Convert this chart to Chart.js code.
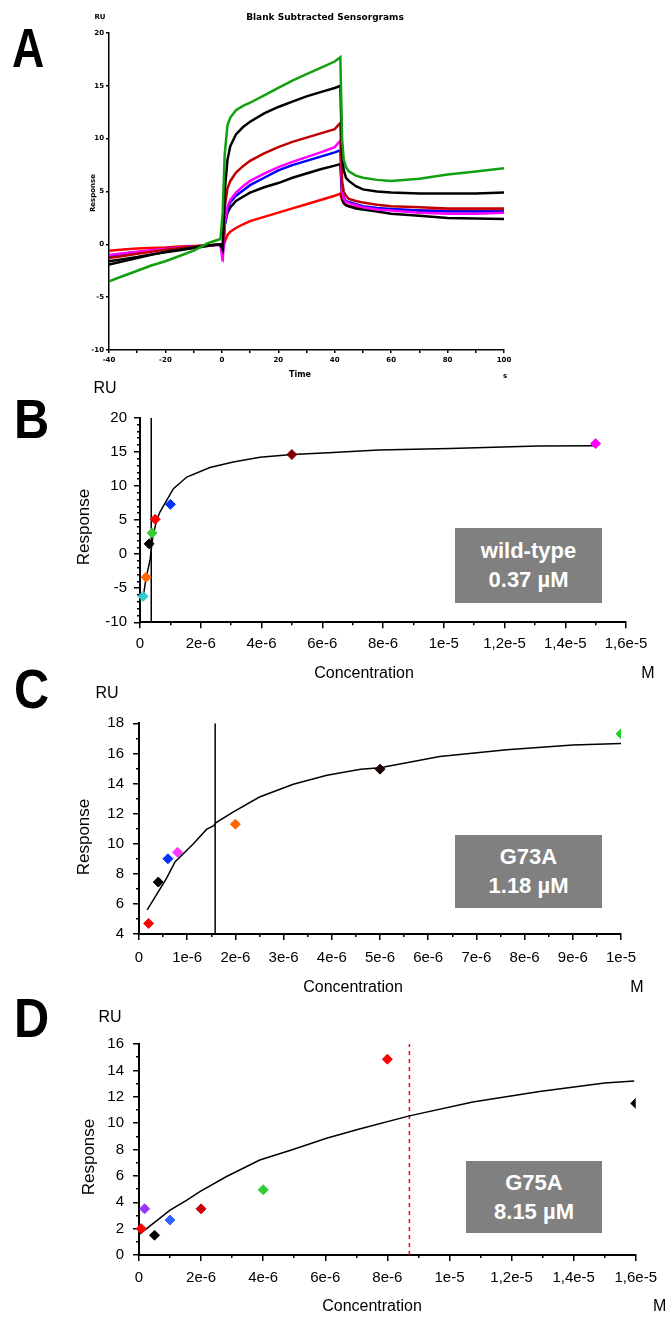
<!DOCTYPE html>
<html>
<head>
<meta charset="utf-8">
<script src="https://cdn.jsdelivr.net/npm/chart.js@4.4.1/dist/chart.umd.min.js"></script>
<style>
  body { margin: 0; background: #fff; width: 665px; height: 1320px; position: relative; overflow: hidden;
         font-family: 'Liberation Sans', Arial, sans-serif; color: #000; }
  canvas { position: absolute; left: 0; }
  .t { position: absolute; white-space: nowrap; line-height: 1; }
  .c { transform: translate(-50%, -50%); }
  .r { transform: translate(-50%, -50%) rotate(-90deg); }
  .letter { font-weight: bold; font-size: 56px; line-height: 56px; transform: scaleX(0.87); transform-origin: 0 0; }
  .box { position: absolute; background: #808080; color: #fff; font-weight: bold; font-size: 22px;
         text-align: center; line-height: 29px; box-sizing: border-box; }
  .tiny { font-family: 'DejaVu Sans', sans-serif; font-weight: bold; }
</style>
</head>
<body>

<canvas id="chartA" width="665" height="390" style="top:0px"></canvas>
<canvas id="chartB" width="665" height="300" style="top:380px"></canvas>
<canvas id="chartC" width="665" height="320" style="top:680px"></canvas>
<canvas id="chartD" width="665" height="320" style="top:1000px"></canvas>

<!-- panel A -->
<div class="t letter" style="left:12px;top:20px;transform:scaleX(0.8)">A</div>
<div class="t c tiny" style="left:325px;top:17px;font-size:9px">Blank Subtracted Sensorgrams</div>
<div class="t c tiny" style="left:100px;top:17px;font-size:7px">RU</div>
<div class="t r tiny" style="left:93px;top:193px;font-size:7px">Response</div>
<div class="t c tiny" style="left:300px;top:375px;font-size:8px">Time</div>
<div class="t c tiny" style="left:505px;top:376px;font-size:7px">s</div>

<!-- panel B -->
<div class="t letter" style="left:14px;top:391px">B</div>
<div class="t c" style="left:105px;top:388px;font-size:16px">RU</div>
<div class="t r" style="left:83px;top:527px;font-size:17px">Response</div>
<div class="t c" style="left:364px;top:673px;font-size:16px">Concentration</div>
<div class="t c" style="left:648px;top:673px;font-size:16px">M</div>
<div class="box" style="left:455px;top:528px;width:147px;height:75px;padding-top:8px">wild-type<br>0.37 µM</div>

<!-- panel C -->
<div class="t letter" style="left:14px;top:661px">C</div>
<div class="t c" style="left:107px;top:693px;font-size:16px">RU</div>
<div class="t r" style="left:83px;top:837px;font-size:17px">Response</div>
<div class="t c" style="left:353px;top:987px;font-size:16px">Concentration</div>
<div class="t c" style="left:637px;top:987px;font-size:16px">M</div>
<div class="box" style="left:455px;top:835px;width:147px;height:73px;padding-top:7px">G73A<br>1.18 µM</div>

<!-- panel D -->
<div class="t letter" style="left:14px;top:990px">D</div>
<div class="t c" style="left:110px;top:1017px;font-size:16px">RU</div>
<div class="t r" style="left:88px;top:1157px;font-size:17px">Response</div>
<div class="t c" style="left:372px;top:1306px;font-size:16px">Concentration</div>
<div class="t" style="left:653px;top:1298px;font-size:16px">M</div>
<div class="box" style="left:466px;top:1161px;width:136px;height:72px;padding-top:7px">G75A<br>8.15 µM</div>

<script>
// Panel A - sensorgrams (time in s, response in RU)
const aTime = [-40, -35, -30, -25, -20, -15, -10, -5, -0.5, 0.3, 1, 2, 3, 5, 7.5, 10, 15, 20, 25, 30, 35, 40, 42, 42.6, 43.2, 44, 45, 47.5, 50, 55, 60, 70, 80, 90, 100];
const aGreen   = [-3.5, -3.0, -2.5, -2.0, -1.6, -1.1, -0.6, 0.1, 0.5, 3.0, 8.5, 11.3, 12.0, 12.7, 13.1, 13.4, 14.1, 14.8, 15.5, 16.1, 16.7, 17.3, 17.7, 10.0, 8.0, 7.3, 6.9, 6.5, 6.3, 6.1, 6.0, 6.2, 6.6, 6.9, 7.2];
const aBlack1  = [-1.9, -1.6, -1.3, -1.0, -0.7, -0.5, -0.3, -0.1, 0.0, -0.5, 5.0, 8.0, 9.3, 10.4, 11.1, 11.6, 12.4, 13.0, 13.5, 14.0, 14.4, 14.8, 15.0, 8.5, 7.0, 6.3, 6.0, 5.5, 5.2, 5.0, 4.9, 4.8, 4.8, 4.8, 4.9];
const aDarkRed = [-1.3, -1.1, -0.9, -0.7, -0.5, -0.35, -0.2, -0.1, 0.0, -0.3, 3.5, 5.3, 6.0, 6.8, 7.4, 7.9, 8.6, 9.2, 9.7, 10.1, 10.5, 10.9, 11.5, 6.0, 5.0, 4.6, 4.3, 4.1, 3.95, 3.75, 3.6, 3.5, 3.4, 3.4, 3.4];
const aMagenta = [-1.0, -0.85, -0.7, -0.55, -0.45, -0.3, -0.2, -0.1, -0.05, -1.6, 2.0, 3.6, 4.2, 4.9, 5.5, 6.0, 6.7, 7.3, 7.8, 8.25, 8.7, 9.2, 9.8, 5.0, 4.3, 4.0, 3.9, 3.7, 3.5, 3.3, 3.2, 3.0, 2.9, 2.9, 3.0];
const aBlue    = [-1.1, -0.9, -0.75, -0.6, -0.45, -0.3, -0.2, -0.1, -0.05, -1.0, 1.8, 3.3, 4.0, 4.6, 5.1, 5.6, 6.3, 7.0, 7.5, 7.9, 8.3, 8.7, 8.9, 5.0, 4.4, 4.1, 4.0, 3.8, 3.6, 3.45, 3.35, 3.2, 3.1, 3.1, 3.1];
const aBlack2  = [-1.6, -1.4, -1.2, -0.95, -0.75, -0.55, -0.35, -0.15, 0.0, -0.8, 1.8, 3.0, 3.5, 4.1, 4.5, 4.9, 5.4, 5.8, 6.3, 6.7, 7.1, 7.45, 7.6, 4.5, 3.9, 3.7, 3.6, 3.4, 3.3, 3.1, 2.9, 2.7, 2.5, 2.45, 2.4];
const aRed     = [-0.6, -0.5, -0.4, -0.35, -0.3, -0.2, -0.15, -0.1, 0.0, -0.6, 0.2, 0.9, 1.2, 1.55, 1.9, 2.2, 2.6, 3.0, 3.4, 3.8, 4.2, 4.6, 4.8, 4.2, 3.9, 3.7, 3.6, 3.5, 3.4, 3.3, 3.3, 3.2, 3.2, 3.2, 3.2];
const aXTicks = [-40, -30, -20, -10, 0, 10, 20, 30, 40, 50, 60, 70, 80, 90, 100];
const aXLabels = ['-40', '', '-20', '', '0', '', '20', '', '40', '', '60', '', '80', '', '100'];
const aYTicks = [-10, -5, 0, 5, 10, 15, 20];
const aYLabels = ['-10', '-5', '0', '5', '10', '15', '20'];

// Panel B - wild-type
const bConc   = [1e-7, 2e-7, 3e-7, 4e-7, 5e-7, 1e-6, 5e-6, 1.5e-5];
const bResp   = [-6.2, -3.4, 1.5, 3.1, 5.1, 7.3, 14.6, 16.2];
const bColors = ['#33cccc', '#ff6600', '#000000', '#33cc33', '#ff0000', '#0033ff', '#800000', '#ff00ff'];
const bFitConc = [0.9e-7, 2e-7, 3.3e-7, 4.2e-7, 5.5e-7, 6.6e-7, 1.1e-6, 1.54e-6, 2.3e-6, 3.07e-6, 3.95e-6, 5e-6, 6.2e-6, 7.85e-6, 1.02e-5, 1.31e-5, 1.5e-5];
const bFitResp = [-6.7, -3.5, -0.9, 2.5, 5.0, 6.2, 9.6, 11.3, 12.7, 13.5, 14.2, 14.6, 14.85, 15.25, 15.5, 15.85, 15.9];
const bKd = 3.7e-7;
const bXTicks  = [0, 2e-6, 4e-6, 6e-6, 8e-6, 1e-5, 1.2e-5, 1.4e-5, 1.6e-5];
const bXLabels = ['0', '2e-6', '4e-6', '6e-6', '8e-6', '1e-5', '1,2e-5', '1,4e-5', '1,6e-5'];
const bXMinor  = [1e-6, 3e-6, 5e-6, 7e-6, 9e-6, 1.1e-5, 1.3e-5, 1.5e-5];
const bYTicks  = [-10, -5, 0, 5, 10, 15, 20];
const bYLabels = ['-10', '-5', '0', '5', '10', '15', '20'];
const bYMinor  = [-9, -8, -7, -6, -4, -3, -2, -1, 1, 2, 3, 4, 6, 7, 8, 9, 11, 12, 13, 14, 16, 17, 18, 19];

// Panel C - G73A
const cConc   = [2e-7, 4e-7, 6e-7, 8e-7, 2e-6, 5e-6, 1e-5];
const cResp   = [4.7, 7.45, 9.0, 9.43, 11.3, 14.95, 17.3];
const cColors = ['#ff0000', '#000000', '#0033ff', '#ff33ff', '#ff6600', '#1a0000', '#22cc22'];
const cFitConc = [1.7e-7, 5.7e-7, 7.5e-7, 1.13e-6, 1.4e-6, 1.55e-6, 1.6e-6, 1.95e-6, 2.5e-6, 3.2e-6, 3.9e-6, 4.6e-6, 5e-6, 6.24e-6, 7.63e-6, 9e-6, 1e-5];
const cFitResp = [5.6, 7.7, 8.8, 10.0, 10.95, 11.2, 11.4, 12.1, 13.1, 13.95, 14.55, 14.95, 15.05, 15.8, 16.25, 16.55, 16.65];
const cKd = 1.58e-6;
const cXTicks  = [0, 1e-6, 2e-6, 3e-6, 4e-6, 5e-6, 6e-6, 7e-6, 8e-6, 9e-6, 1e-5];
const cXLabels = ['0', '1e-6', '2e-6', '3e-6', '4e-6', '5e-6', '6e-6', '7e-6', '8e-6', '9e-6', '1e-5'];
const cXMinor  = [5e-7, 1.5e-6, 2.5e-6, 3.5e-6, 4.5e-6, 5.5e-6, 6.5e-6, 7.5e-6, 8.5e-6, 9.5e-6];
const cYTicks  = [4, 6, 8, 10, 12, 14, 16, 18];
const cYLabels = ['4', '6', '8', '10', '12', '14', '16', '18'];
const cYMinor  = [5, 7, 9, 11, 13, 15, 17];

// Panel D - G75A
const dConc   = [0.7e-7, 1.8e-7, 5e-7, 1e-6, 2e-6, 4e-6, 8e-6, 1.6e-5];
const dResp   = [2.0, 3.5, 1.5, 2.65, 3.5, 4.95, 14.85, 11.5];
const dColors = ['#ff0000', '#9933ff', '#000000', '#3366ff', '#cc0000', '#33cc33', '#ff0000', '#000000'];
const dFitConc = [0.3e-7, 4.6e-7, 1e-6, 1.53e-6, 1.96e-6, 2.82e-6, 3.89e-6, 4.96e-6, 6.04e-6, 7.1e-6, 8.71e-6, 1.075e-5, 1.29e-5, 1.5e-5, 1.595e-5];
const dFitResp = [1.6, 2.4, 3.4, 4.15, 4.8, 5.95, 7.2, 8.0, 8.85, 9.55, 10.55, 11.6, 12.4, 13.05, 13.2];
const dKd = 8.71e-6;
const dXTicks  = [0, 2e-6, 4e-6, 6e-6, 8e-6, 1e-5, 1.2e-5, 1.4e-5, 1.6e-5];
const dXLabels = ['0', '2e-6', '4e-6', '6e-6', '8e-6', '1e-5', '1,2e-5', '1,4e-5', '1,6e-5'];
const dXMinor  = [1e-6, 3e-6, 5e-6, 7e-6, 9e-6, 1.1e-5, 1.3e-5, 1.5e-5];
const dYTicks  = [0, 2, 4, 6, 8, 10, 12, 14, 16];
const dYLabels = ['0', '2', '4', '6', '8', '10', '12', '14', '16'];
const dYMinor  = [1, 3, 5, 7, 9, 11, 13, 15];

const W = 665;

function pts(xs, ys) {
  return xs.map((x, i) => ({ x: x, y: ys[i] }));
}

function setTicks(arr) {
  return function (scale) { scale.ticks = arr.map(v => ({ value: v })); };
}

// box = [left, top, right, bottom] of the plot area inside the canvas
function makePanel(id, box, xa, ya, datasets, st) {
  const cv = document.getElementById(id);
  const h = cv.height;
  const tickGrid = len => ({ display: true, drawOnChartArea: false, drawTicks: true, color: '#000',
                             tickColor: '#000', lineWidth: 1.5, tickWidth: 1.5, tickLength: len });
  const scales = {
    x: {
      type: 'linear', position: 'bottom', min: xa.min, max: xa.max,
      afterBuildTicks: setTicks(xa.ticks),
      afterFit: s => { s.height = h - box[3]; },
      ticks: { font: st.font, color: '#000', padding: st.padX, maxRotation: 0, autoSkip: false,
               callback: (v, i) => xa.labels[i] },
      grid: tickGrid(st.tick),
      border: { display: true, color: '#000', width: st.axisW }
    },
    y: {
      type: 'linear', position: 'left', min: ya.min, max: ya.max,
      afterBuildTicks: setTicks(ya.ticks),
      afterFit: s => { s.width = box[0]; },
      ticks: { font: st.font, color: '#000', padding: st.padY, autoSkip: false,
               callback: (v, i) => ya.labels[i] },
      grid: tickGrid(st.tick),
      border: { display: true, color: '#000', width: st.axisW }
    }
  };
  if (xa.minor) {
    scales.xm = {
      type: 'linear', position: 'bottom', weight: -1, min: xa.min, max: xa.max,
      afterBuildTicks: setTicks(xa.minor),
      afterFit: s => { s.height = 0; },
      ticks: { display: false },
      grid: tickGrid(st.minorTick),
      border: { display: false }
    };
  }
  if (ya.minor) {
    scales.ym = {
      type: 'linear', position: 'left', weight: -1, min: ya.min, max: ya.max,
      afterBuildTicks: setTicks(ya.minor),
      afterFit: s => { s.width = 0; },
      ticks: { display: false },
      grid: tickGrid(st.minorTick),
      border: { display: false }
    };
  }
  return new Chart(cv, {
    type: 'scatter',
    data: { datasets: datasets },
    options: {
      responsive: false,
      animation: false,
      events: [],
      layout: { padding: { left: 0, top: box[1], right: W - box[2], bottom: 0 } },
      plugins: { legend: { display: false }, tooltip: { enabled: false } },
      scales: scales
    }
  });
}

function trace(xs, ys, color, width) {
  return { data: pts(xs, ys), showLine: true, pointRadius: 0, borderColor: color,
           borderWidth: width, tension: 0, order: 1 };
}

function markers(xs, ys, colors) {
  return { data: pts(xs, ys), showLine: false, pointStyle: 'rectRot', pointRadius: 5,
           pointBackgroundColor: colors, pointBorderColor: colors, pointBorderWidth: 1,
           clip: { left: 10, top: 10, right: 0, bottom: 10 }, order: 0 };
}

function vline(x, lo, hi, color, dash) {
  return { data: [{ x: x, y: lo }, { x: x, y: hi }], showLine: true, pointRadius: 0,
           borderColor: color, borderWidth: 1.5, borderDash: dash || [], order: 2 };
}

// ---- A ----
const aStyle = { font: { family: 'DejaVu Sans', size: 7, weight: 'bold' }, padX: 3, padY: 2,
                 tick: 3, minorTick: 0, axisW: 1.5 };
makePanel('chartA', [109, 33, 504, 350],
  { min: -40, max: 100, ticks: aXTicks, labels: aXLabels },
  { min: -10, max: 20, ticks: aYTicks, labels: aYLabels },
  [
    trace(aTime, aGreen, '#10a010', 2.5),
    trace(aTime, aBlack1, '#000000', 2.5),
    trace(aTime, aDarkRed, '#c00000', 2.5),
    trace(aTime, aMagenta, '#ff00ff', 2.5),
    trace(aTime, aBlue, '#0000ff', 2.5),
    trace(aTime, aBlack2, '#000000', 2.5),
    trace(aTime, aRed, '#ff0000', 2.5)
  ], aStyle);

// ---- B ----
const fitFont = { family: 'Liberation Sans', size: 15 };
makePanel('chartB', [140, 37.7, 626, 242.3],
  { min: 0, max: 1.6e-5, ticks: bXTicks, labels: bXLabels, minor: bXMinor },
  { min: -10, max: 20, ticks: bYTicks, labels: bYLabels, minor: bYMinor },
  [
    markers(bConc, bResp, bColors),
    trace(bFitConc, bFitResp, '#000000', 1.5),
    vline(bKd, -10, 20, '#000000')
  ], { font: fitFont, padX: 7, padY: 7, tick: 6, minorTick: 3, axisW: 2 });

// ---- C ----
makePanel('chartC', [139, 43.3, 621, 254],
  { min: 0, max: 1e-5, ticks: cXTicks, labels: cXLabels, minor: cXMinor },
  { min: 4, max: 18, ticks: cYTicks, labels: cYLabels, minor: cYMinor },
  [
    markers(cConc, cResp, cColors),
    trace(cFitConc, cFitResp, '#000000', 1.5),
    vline(cKd, 4, 18, '#000000')
  ], { font: fitFont, padX: 9, padY: 9, tick: 6, minorTick: 3, axisW: 2 });

// ---- D ----
makePanel('chartD', [139, 44, 636.7, 255],
  { min: 0, max: 1.6e-5, ticks: dXTicks, labels: dXLabels, minor: dXMinor },
  { min: 0, max: 16, ticks: dYTicks, labels: dYLabels, minor: dYMinor },
  [
    markers(dConc, dResp, dColors),
    trace(dFitConc, dFitResp, '#000000', 1.5),
    vline(dKd, 0, 16, '#ff0000', [4, 4])
  ], { font: fitFont, padX: 8, padY: 9, tick: 6, minorTick: 3, axisW: 2 });
</script>
</body>
</html>
